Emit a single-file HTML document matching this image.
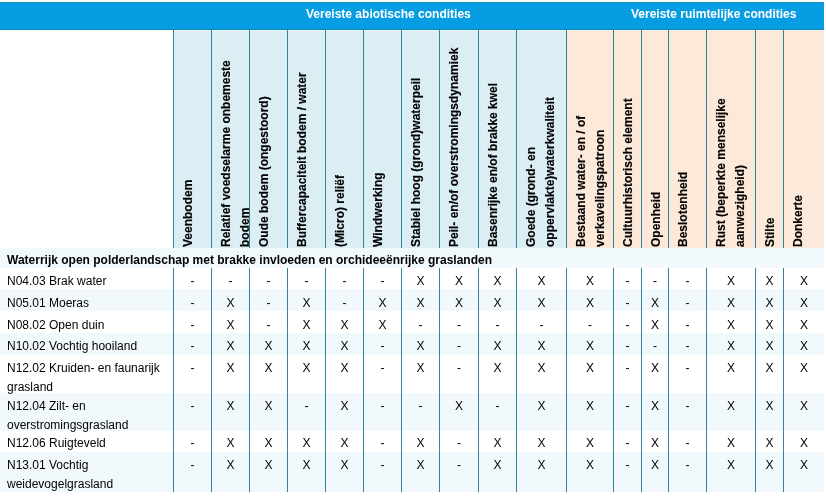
<!DOCTYPE html>
<html lang="nl">
<head>
<meta charset="utf-8">
<title>Vereiste abiotische en ruimtelijke condities</title>
<style>
html,body{margin:0;padding:0;background:#fff;}
body{width:826px;height:496px;position:relative;overflow:hidden;font-family:"Liberation Sans",Arial,sans-serif;font-size:12px;line-height:19px;color:#000;}
.a{position:absolute;}
.hb{left:0;top:2px;width:824px;height:28px;background:#079de2;box-sizing:border-box;border-top:1px solid #1a8fb4;border-bottom:1px solid #1585b6;}
.ht{top:5px;height:19px;color:#fff;font-weight:bold;white-space:nowrap;}
.cb{top:30px;height:218px;background:#dbeef4;}
.co{top:30px;height:218px;background:#fde9d9;}
.vl{width:1px;background:#31849b;}
.hl{left:173px;top:30px;width:651px;height:1px;background:rgba(255,255,255,0.45);}
.st{left:0;width:824px;background:#f2f9fd;}
.rt{white-space:nowrap;font-weight:bold;transform-origin:0 0;transform:rotate(-90deg);line-height:19px;height:19px;-webkit-text-stroke:0.15px #000;}
.lb{left:7px;white-space:nowrap;}
.c{text-align:center;height:19px;}
.tt{left:7px;font-weight:bold;white-space:nowrap;}
</style>
</head>
<body>
<div class="a hb"></div>
<div class="a ht" style="left:306px">Vereiste abiotische condities</div>
<div class="a ht" style="left:631px">Vereiste ruimtelijke condities</div>
<div class="a cb" style="left:173px;width:38px"></div>
<div class="a cb" style="left:211px;width:38px"></div>
<div class="a cb" style="left:249px;width:38px"></div>
<div class="a cb" style="left:287px;width:38px"></div>
<div class="a cb" style="left:325px;width:38px"></div>
<div class="a cb" style="left:363px;width:38px"></div>
<div class="a cb" style="left:401px;width:38px"></div>
<div class="a cb" style="left:439px;width:39px"></div>
<div class="a cb" style="left:478px;width:38px"></div>
<div class="a cb" style="left:516px;width:50px"></div>
<div class="a co" style="left:566px;width:47px"></div>
<div class="a co" style="left:613px;width:28px"></div>
<div class="a co" style="left:641px;width:27px"></div>
<div class="a co" style="left:668px;width:38px"></div>
<div class="a co" style="left:706px;width:49px"></div>
<div class="a co" style="left:755px;width:28px"></div>
<div class="a co" style="left:783px;width:41px"></div>
<div class="a hl"></div>
<div class="a st" style="top:248px;height:20px"></div>
<div class="a st" style="top:289px;height:22px"></div>
<div class="a st" style="top:333px;height:22px"></div>
<div class="a st" style="top:393px;height:38px"></div>
<div class="a st" style="top:452px;height:40px"></div>
<div class="a vl" style="left:173px;top:30px;height:218px"></div><div class="a vl" style="left:173px;top:268px;height:224px"></div>
<div class="a vl" style="left:211px;top:30px;height:218px"></div><div class="a vl" style="left:211px;top:268px;height:224px"></div>
<div class="a vl" style="left:249px;top:30px;height:218px"></div><div class="a vl" style="left:249px;top:268px;height:224px"></div>
<div class="a vl" style="left:287px;top:30px;height:218px"></div><div class="a vl" style="left:287px;top:268px;height:224px"></div>
<div class="a vl" style="left:325px;top:30px;height:218px"></div><div class="a vl" style="left:325px;top:268px;height:224px"></div>
<div class="a vl" style="left:363px;top:30px;height:218px"></div><div class="a vl" style="left:363px;top:268px;height:224px"></div>
<div class="a vl" style="left:401px;top:30px;height:218px"></div><div class="a vl" style="left:401px;top:268px;height:224px"></div>
<div class="a vl" style="left:439px;top:30px;height:218px"></div><div class="a vl" style="left:439px;top:268px;height:224px"></div>
<div class="a vl" style="left:478px;top:30px;height:218px"></div><div class="a vl" style="left:478px;top:268px;height:224px"></div>
<div class="a vl" style="left:516px;top:30px;height:218px"></div><div class="a vl" style="left:516px;top:268px;height:224px"></div>
<div class="a vl" style="left:566px;top:30px;height:218px"></div><div class="a vl" style="left:566px;top:268px;height:224px"></div>
<div class="a vl" style="left:613px;top:30px;height:218px"></div><div class="a vl" style="left:613px;top:268px;height:224px"></div>
<div class="a vl" style="left:641px;top:30px;height:218px"></div><div class="a vl" style="left:641px;top:268px;height:224px"></div>
<div class="a vl" style="left:668px;top:30px;height:218px"></div><div class="a vl" style="left:668px;top:268px;height:224px"></div>
<div class="a vl" style="left:706px;top:30px;height:218px"></div><div class="a vl" style="left:706px;top:268px;height:224px"></div>
<div class="a vl" style="left:755px;top:30px;height:218px"></div><div class="a vl" style="left:755px;top:268px;height:224px"></div>
<div class="a vl" style="left:783px;top:30px;height:218px"></div><div class="a vl" style="left:783px;top:268px;height:224px"></div>
<div class="a rt" style="left:179px;top:247px">Veenbodem</div>
<div class="a rt" style="left:217px;top:247px">Relatief voedselarme onbemeste<br>bodem</div>
<div class="a rt" style="left:255px;top:247px">Oude bodem (ongestoord)</div>
<div class="a rt" style="left:293px;top:247px">Buffercapaciteit bodem / water</div>
<div class="a rt" style="left:331px;top:247px">(Micro) reliëf</div>
<div class="a rt" style="left:369px;top:247px">Windwerking</div>
<div class="a rt" style="left:407px;top:247px">Stabiel hoog (grond)waterpeil</div>
<div class="a rt" style="left:445px;top:247px">Peil- en/of overstromingsdynamiek</div>
<div class="a rt" style="left:484px;top:247px">Basenrijke en/of brakke kwel</div>
<div class="a rt" style="left:522px;top:247px">Goede (grond- en<br>oppervlakte)waterkwaliteit</div>
<div class="a rt" style="left:572px;top:247px">Bestaand water- en / of<br>verkavelingspatroon</div>
<div class="a rt" style="left:619px;top:247px">Cultuurhistorisch element</div>
<div class="a rt" style="left:647px;top:247px">Openheid</div>
<div class="a rt" style="left:674px;top:247px">Beslotenheid</div>
<div class="a rt" style="left:712px;top:247px">Rust (beperkte menselijke<br>aanwezigheid)</div>
<div class="a rt" style="left:761px;top:247px">Stilte</div>
<div class="a rt" style="left:789px;top:247px">Donkerte</div>
<div class="a tt" style="top:251px">Waterrijk open polderlandschap met brakke invloeden en orchideeënrijke graslanden</div>
<div class="a lb" style="top:272px">N04.03 Brak water</div>
<div class="a c" style="left:174px;top:272px;width:37px">-</div><div class="a c" style="left:212px;top:272px;width:37px">-</div><div class="a c" style="left:250px;top:272px;width:37px">-</div><div class="a c" style="left:288px;top:272px;width:37px">-</div><div class="a c" style="left:326px;top:272px;width:37px">-</div><div class="a c" style="left:364px;top:272px;width:37px">-</div><div class="a c" style="left:402px;top:272px;width:37px">X</div><div class="a c" style="left:440px;top:272px;width:38px">X</div><div class="a c" style="left:479px;top:272px;width:37px">X</div><div class="a c" style="left:517px;top:272px;width:49px">X</div><div class="a c" style="left:567px;top:272px;width:46px">X</div><div class="a c" style="left:614px;top:272px;width:27px">-</div><div class="a c" style="left:642px;top:272px;width:26px">-</div><div class="a c" style="left:669px;top:272px;width:37px">-</div><div class="a c" style="left:707px;top:272px;width:48px">X</div><div class="a c" style="left:756px;top:272px;width:27px">X</div><div class="a c" style="left:784px;top:272px;width:40px">X</div>
<div class="a lb" style="top:294px">N05.01 Moeras</div>
<div class="a c" style="left:174px;top:294px;width:37px">-</div><div class="a c" style="left:212px;top:294px;width:37px">X</div><div class="a c" style="left:250px;top:294px;width:37px">-</div><div class="a c" style="left:288px;top:294px;width:37px">X</div><div class="a c" style="left:326px;top:294px;width:37px">-</div><div class="a c" style="left:364px;top:294px;width:37px">X</div><div class="a c" style="left:402px;top:294px;width:37px">X</div><div class="a c" style="left:440px;top:294px;width:38px">X</div><div class="a c" style="left:479px;top:294px;width:37px">X</div><div class="a c" style="left:517px;top:294px;width:49px">X</div><div class="a c" style="left:567px;top:294px;width:46px">X</div><div class="a c" style="left:614px;top:294px;width:27px">-</div><div class="a c" style="left:642px;top:294px;width:26px">X</div><div class="a c" style="left:669px;top:294px;width:37px">-</div><div class="a c" style="left:707px;top:294px;width:48px">X</div><div class="a c" style="left:756px;top:294px;width:27px">X</div><div class="a c" style="left:784px;top:294px;width:40px">X</div>
<div class="a lb" style="top:316px">N08.02 Open duin</div>
<div class="a c" style="left:174px;top:316px;width:37px">-</div><div class="a c" style="left:212px;top:316px;width:37px">X</div><div class="a c" style="left:250px;top:316px;width:37px">-</div><div class="a c" style="left:288px;top:316px;width:37px">X</div><div class="a c" style="left:326px;top:316px;width:37px">X</div><div class="a c" style="left:364px;top:316px;width:37px">X</div><div class="a c" style="left:402px;top:316px;width:37px">-</div><div class="a c" style="left:440px;top:316px;width:38px">-</div><div class="a c" style="left:479px;top:316px;width:37px">-</div><div class="a c" style="left:517px;top:316px;width:49px">-</div><div class="a c" style="left:567px;top:316px;width:46px">-</div><div class="a c" style="left:614px;top:316px;width:27px">-</div><div class="a c" style="left:642px;top:316px;width:26px">X</div><div class="a c" style="left:669px;top:316px;width:37px">-</div><div class="a c" style="left:707px;top:316px;width:48px">X</div><div class="a c" style="left:756px;top:316px;width:27px">X</div><div class="a c" style="left:784px;top:316px;width:40px">X</div>
<div class="a lb" style="top:337px">N10.02 Vochtig hooiland</div>
<div class="a c" style="left:174px;top:337px;width:37px">-</div><div class="a c" style="left:212px;top:337px;width:37px">X</div><div class="a c" style="left:250px;top:337px;width:37px">X</div><div class="a c" style="left:288px;top:337px;width:37px">X</div><div class="a c" style="left:326px;top:337px;width:37px">X</div><div class="a c" style="left:364px;top:337px;width:37px">-</div><div class="a c" style="left:402px;top:337px;width:37px">X</div><div class="a c" style="left:440px;top:337px;width:38px">-</div><div class="a c" style="left:479px;top:337px;width:37px">X</div><div class="a c" style="left:517px;top:337px;width:49px">X</div><div class="a c" style="left:567px;top:337px;width:46px">X</div><div class="a c" style="left:614px;top:337px;width:27px">-</div><div class="a c" style="left:642px;top:337px;width:26px">-</div><div class="a c" style="left:669px;top:337px;width:37px">-</div><div class="a c" style="left:707px;top:337px;width:48px">X</div><div class="a c" style="left:756px;top:337px;width:27px">X</div><div class="a c" style="left:784px;top:337px;width:40px">X</div>
<div class="a lb" style="top:359px">N12.02 Kruiden- en faunarijk<br>grasland</div>
<div class="a c" style="left:174px;top:359px;width:37px">-</div><div class="a c" style="left:212px;top:359px;width:37px">X</div><div class="a c" style="left:250px;top:359px;width:37px">X</div><div class="a c" style="left:288px;top:359px;width:37px">X</div><div class="a c" style="left:326px;top:359px;width:37px">X</div><div class="a c" style="left:364px;top:359px;width:37px">-</div><div class="a c" style="left:402px;top:359px;width:37px">X</div><div class="a c" style="left:440px;top:359px;width:38px">-</div><div class="a c" style="left:479px;top:359px;width:37px">X</div><div class="a c" style="left:517px;top:359px;width:49px">X</div><div class="a c" style="left:567px;top:359px;width:46px">X</div><div class="a c" style="left:614px;top:359px;width:27px">-</div><div class="a c" style="left:642px;top:359px;width:26px">X</div><div class="a c" style="left:669px;top:359px;width:37px">-</div><div class="a c" style="left:707px;top:359px;width:48px">X</div><div class="a c" style="left:756px;top:359px;width:27px">X</div><div class="a c" style="left:784px;top:359px;width:40px">X</div>
<div class="a lb" style="top:397px">N12.04 Zilt- en<br>overstromingsgrasland</div>
<div class="a c" style="left:174px;top:397px;width:37px">-</div><div class="a c" style="left:212px;top:397px;width:37px">X</div><div class="a c" style="left:250px;top:397px;width:37px">X</div><div class="a c" style="left:288px;top:397px;width:37px">-</div><div class="a c" style="left:326px;top:397px;width:37px">X</div><div class="a c" style="left:364px;top:397px;width:37px">-</div><div class="a c" style="left:402px;top:397px;width:37px">-</div><div class="a c" style="left:440px;top:397px;width:38px">X</div><div class="a c" style="left:479px;top:397px;width:37px">-</div><div class="a c" style="left:517px;top:397px;width:49px">X</div><div class="a c" style="left:567px;top:397px;width:46px">X</div><div class="a c" style="left:614px;top:397px;width:27px">-</div><div class="a c" style="left:642px;top:397px;width:26px">X</div><div class="a c" style="left:669px;top:397px;width:37px">-</div><div class="a c" style="left:707px;top:397px;width:48px">X</div><div class="a c" style="left:756px;top:397px;width:27px">X</div><div class="a c" style="left:784px;top:397px;width:40px">X</div>
<div class="a lb" style="top:434px">N12.06 Ruigteveld</div>
<div class="a c" style="left:174px;top:434px;width:37px">-</div><div class="a c" style="left:212px;top:434px;width:37px">X</div><div class="a c" style="left:250px;top:434px;width:37px">X</div><div class="a c" style="left:288px;top:434px;width:37px">X</div><div class="a c" style="left:326px;top:434px;width:37px">X</div><div class="a c" style="left:364px;top:434px;width:37px">-</div><div class="a c" style="left:402px;top:434px;width:37px">X</div><div class="a c" style="left:440px;top:434px;width:38px">-</div><div class="a c" style="left:479px;top:434px;width:37px">X</div><div class="a c" style="left:517px;top:434px;width:49px">X</div><div class="a c" style="left:567px;top:434px;width:46px">X</div><div class="a c" style="left:614px;top:434px;width:27px">-</div><div class="a c" style="left:642px;top:434px;width:26px">X</div><div class="a c" style="left:669px;top:434px;width:37px">-</div><div class="a c" style="left:707px;top:434px;width:48px">X</div><div class="a c" style="left:756px;top:434px;width:27px">X</div><div class="a c" style="left:784px;top:434px;width:40px">X</div>
<div class="a lb" style="top:456px">N13.01 Vochtig<br>weidevogelgrasland</div>
<div class="a c" style="left:174px;top:456px;width:37px">-</div><div class="a c" style="left:212px;top:456px;width:37px">X</div><div class="a c" style="left:250px;top:456px;width:37px">X</div><div class="a c" style="left:288px;top:456px;width:37px">X</div><div class="a c" style="left:326px;top:456px;width:37px">X</div><div class="a c" style="left:364px;top:456px;width:37px">-</div><div class="a c" style="left:402px;top:456px;width:37px">X</div><div class="a c" style="left:440px;top:456px;width:38px">-</div><div class="a c" style="left:479px;top:456px;width:37px">X</div><div class="a c" style="left:517px;top:456px;width:49px">X</div><div class="a c" style="left:567px;top:456px;width:46px">X</div><div class="a c" style="left:614px;top:456px;width:27px">-</div><div class="a c" style="left:642px;top:456px;width:26px">X</div><div class="a c" style="left:669px;top:456px;width:37px">-</div><div class="a c" style="left:707px;top:456px;width:48px">X</div><div class="a c" style="left:756px;top:456px;width:27px">X</div><div class="a c" style="left:784px;top:456px;width:40px">X</div>
</body>
</html>
